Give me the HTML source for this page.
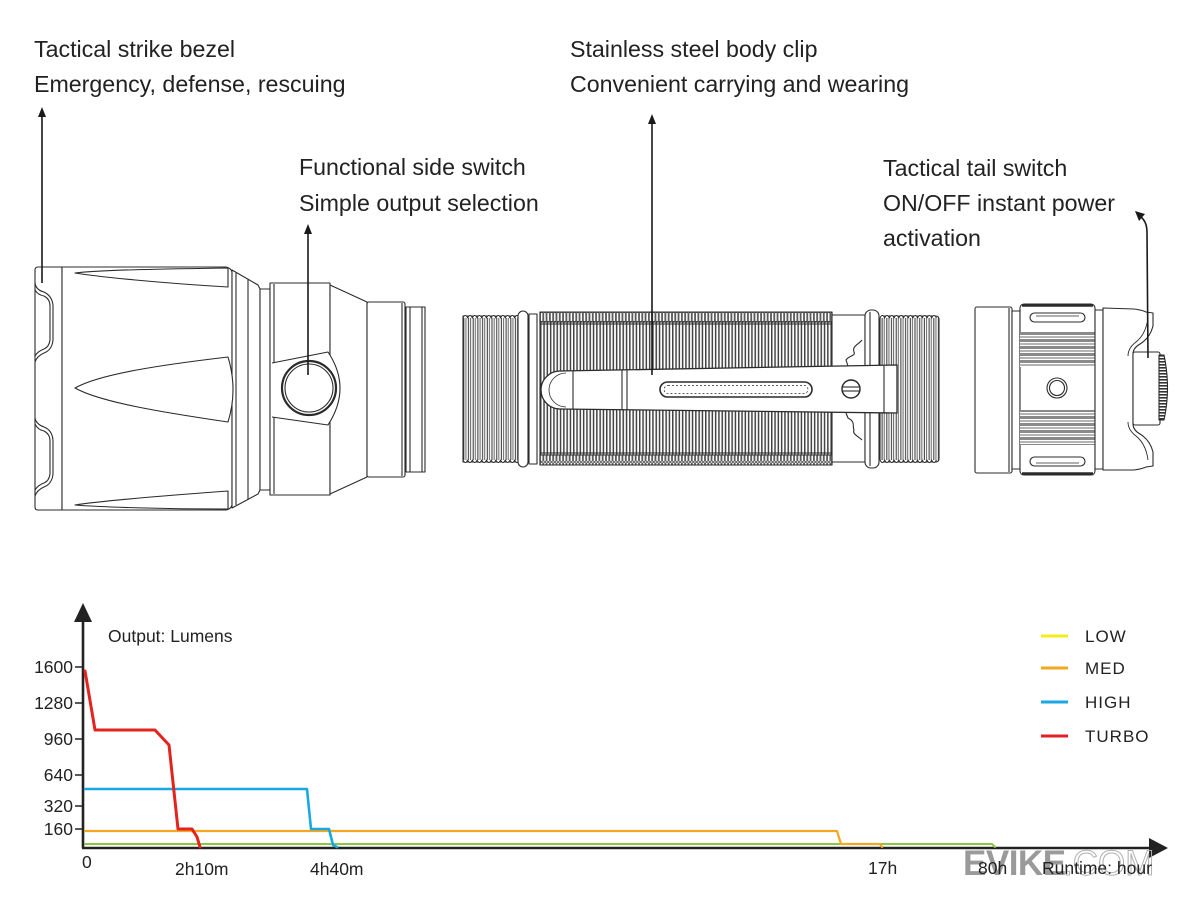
<!DOCTYPE html>
<html><head><meta charset="utf-8"><style>
html,body{margin:0;padding:0;background:#fff;}
svg{display:block;}
text{font-family:"Liberation Sans",Arial,sans-serif;}
</style></head><body>
<svg width="1200" height="900" viewBox="0 0 1200 900" xmlns="http://www.w3.org/2000/svg">
<defs>
<pattern id="vg" x="540" y="0" width="3.3" height="10" patternUnits="userSpaceOnUse"><rect width="3.3" height="10" fill="#fff"/><rect x="0" width="1.5" height="10" fill="#444"/></pattern>
<pattern id="kb" x="540" y="312" width="3.3" height="10" patternUnits="userSpaceOnUse"><rect width="3.3" height="10" fill="#fff"/><rect x="0.4" y="0.5" width="2.4" height="9" rx="1" fill="#fff" stroke="#444" stroke-width="0.8"/></pattern>
<pattern id="th" x="463" y="0" width="4.7" height="10" patternUnits="userSpaceOnUse"><rect width="4.7" height="10" fill="#fff"/><rect x="0.3" width="1" height="10" fill="#333"/><rect x="2.5" width="0.9" height="10" fill="#555"/></pattern>
<pattern id="tg" x="0" y="332" width="10" height="7" patternUnits="userSpaceOnUse"><rect width="10" height="7" fill="#fff"/><rect y="0" width="10" height="3" fill="#8a8a8a"/><rect y="4.6" width="10" height="0.8" fill="#444"/></pattern>
<pattern id="dial" x="0" y="355" width="10" height="3" patternUnits="userSpaceOnUse"><rect width="10" height="3" fill="#fff"/><rect width="10" height="1.6" fill="#333"/></pattern>
</defs>

<!-- labels -->
<g fill="#222" font-size="23.2">
<text x="34" y="57">Tactical strike bezel</text>
<text x="34" y="92">Emergency, defense, rescuing</text>
<text x="299" y="175">Functional side switch</text>
<text x="299" y="211">Simple output selection</text>
<text x="570" y="57">Stainless steel body clip</text>
<text x="570" y="92">Convenient carrying and wearing</text>
<text x="883" y="176">Tactical tail switch</text>
<text x="883" y="211">ON/OFF instant power</text>
<text x="883" y="246">activation</text>
</g>

<!-- ===== HEAD ===== -->
<g fill="#fff" stroke="#2b2b2b" stroke-width="1.1" stroke-linejoin="round">
<!-- bezel -->
<path d="M38,267 L62,267 L62,510 L38,510 Q35,510 35,507 L35,270 Q35,267 38,267 Z"/>
<path d="M35,283 Q36,290 44,292 Q52,296 53,305 L53,340 Q52,350 44,353 Q37,356 35,362" fill="none"/>
<path d="M35,290 Q38,295 44,296 Q50,299 50,306 L50,340 Q49,347 44,349 Q38,351 35,356" fill="none"/>
<path d="M35,418 Q36,424 44,427 Q52,430 53,440 L53,474 Q52,484 44,487 Q37,490 35,496" fill="none"/>
<path d="M35,424 Q38,430 44,431 Q50,434 50,441 L50,474 Q49,481 44,483 Q38,485 35,490" fill="none"/>
<!-- main body -->
<path d="M62,267 L226,267 Q231,268 232,272 L232,505 Q231,509 226,510 L62,510 Z"/>
<path d="M232,270 L258,285 L260,289 L260,490 L258,494 L232,508 Z"/>
<line x1="236" y1="273" x2="236" y2="505"/>
<line x1="248" y1="279" x2="248" y2="500"/>
<!-- flutes -->
<path d="M228,268 C160,269 100,270 75,273 C100,277 160,283 228,287 Z"/>
<path d="M228,357 C160,365 100,374 75,388 C100,402 160,412 228,422 Q238,390 228,357 Z"/>
<path d="M228,491 C160,496 100,501 75,505 C100,507 160,509 228,509 Z"/>
<!-- neck -->
<rect x="260" y="289" width="10" height="201"/>
<!-- switch section -->
<rect x="270" y="283" width="60" height="212"/>
<line x1="274" y1="284" x2="274" y2="494"/>
<!-- taper -->
<path d="M330,285 L367,302 L367,477 L330,494 Z"/>
<rect x="367" y="302" width="38" height="175" rx="2"/>
<line x1="402" y1="303" x2="402" y2="476"/>
<rect x="406" y="307" width="19" height="165"/>
<line x1="410" y1="307" x2="410" y2="472"/>
<line x1="422" y1="307" x2="422" y2="472"/>
<!-- switch boss -->
<path d="M272,363 L328,352 Q352,388 328,425 L272,417"/>
<circle cx="309" cy="388" r="27" stroke-width="2.2"/>
<circle cx="309" cy="388" r="24"/>
</g>

<!-- ===== BODY ===== -->
<g stroke="#2b2b2b" stroke-width="1.1" stroke-linejoin="round">
<!-- left threads -->
<rect x="463" y="316" width="55" height="146" fill="url(#th)"/>
<path d="M463,318 q2.3,-5 4.7,0 q2.3,-5 4.7,0 q2.3,-5 4.7,0 q2.3,-5 4.7,0 q2.3,-5 4.7,0 q2.3,-5 4.7,0 q2.3,-5 4.7,0 q2.3,-5 4.7,0 q2.3,-5 4.7,0 q2.3,-5 4.7,0 q2.3,-5 4.7,0 q2.3,-5 4.7,0" fill="#fff" stroke-width="0.9"/>
<path d="M463,460 q2.3,5 4.7,0 q2.3,5 4.7,0 q2.3,5 4.7,0 q2.3,5 4.7,0 q2.3,5 4.7,0 q2.3,5 4.7,0 q2.3,5 4.7,0 q2.3,5 4.7,0 q2.3,5 4.7,0 q2.3,5 4.7,0 q2.3,5 4.7,0 q2.3,5 4.7,0" fill="#fff" stroke-width="0.9"/>
<rect x="518" y="311" width="10" height="156" rx="5" fill="#fff"/>
<rect x="529" y="314" width="8" height="150" fill="#fff"/>
<!-- knurled main -->
<rect x="540" y="312" width="292" height="153" fill="url(#vg)"/>
<rect x="540" y="312" width="292" height="10" fill="url(#kb)"/>
<rect x="540" y="455" width="292" height="10" fill="url(#kb)"/>
<line x1="540" y1="324" x2="832" y2="324"/>
<line x1="540" y1="453" x2="832" y2="453"/>
<!-- right plain -->
<rect x="832" y="315" width="33" height="147" fill="#fff"/>
<path d="M862,340 C858,345 852,346 854,352 C856,356 848,356 846,360 L848,366" fill="none"/>
<path d="M846,413 L848,418 C856,422 852,426 854,430 C852,434 858,436 862,440" fill="none"/>
<rect x="865" y="310" width="14" height="158" rx="6" fill="#fff"/>
<line x1="870" y1="312" x2="870" y2="466"/>
<rect x="880" y="316" width="59" height="146" rx="3" fill="url(#th)"/>
<path d="M880,318 q2.3,-5 4.7,0 q2.3,-5 4.7,0 q2.3,-5 4.7,0 q2.3,-5 4.7,0 q2.3,-5 4.7,0 q2.3,-5 4.7,0 q2.3,-5 4.7,0 q2.3,-5 4.7,0 q2.3,-5 4.7,0 q2.3,-5 4.7,0 q2.3,-5 4.7,0 q2.3,-5 4.7,0" fill="#fff" stroke-width="0.9"/>
<path d="M880,460 q2.3,5 4.7,0 q2.3,5 4.7,0 q2.3,5 4.7,0 q2.3,5 4.7,0 q2.3,5 4.7,0 q2.3,5 4.7,0 q2.3,5 4.7,0 q2.3,5 4.7,0 q2.3,5 4.7,0 q2.3,5 4.7,0 q2.3,5 4.7,0 q2.3,5 4.7,0" fill="#fff" stroke-width="0.9"/>
<!-- clip -->
<rect x="541" y="384" width="11" height="12" fill="#fff"/>
<path d="M897,365 L560,371 A19,19 0 0 0 560,409 L897,413 Z" fill="#fff" stroke-width="1.3"/>
<path d="M566,373 A17,17 0 0 0 566,407" fill="none" stroke-width="0.8"/>
<line x1="573" y1="371" x2="573" y2="409"/>
<line x1="622" y1="370" x2="622" y2="410"/>
<line x1="627" y1="370" x2="627" y2="410"/>
<line x1="884" y1="366" x2="884" y2="413"/>
<rect x="660" y="382" width="152" height="15" rx="7.5" fill="#fff" stroke-width="1.6"/>
<rect x="664" y="385.5" width="144" height="8" rx="4" fill="none" stroke-width="0.7" stroke-dasharray="2 2"/>
<circle cx="851" cy="389" r="9" fill="#fff" stroke-width="1.5"/>
<line x1="843" y1="387" x2="859" y2="387"/>
<line x1="843" y1="391" x2="859" y2="391"/>
</g>

<!-- ===== TAIL ===== -->
<g stroke="#2b2b2b" stroke-width="1.1" stroke-linejoin="round" fill="#fff">
<rect x="975" y="307" width="37" height="166" rx="2"/>
<line x1="1009" y1="308" x2="1009" y2="472"/>
<rect x="1012" y="311" width="8" height="158"/>
<rect x="1020" y="304" width="75" height="171" rx="4"/>
<line x1="1022" y1="305.5" x2="1093" y2="305.5" stroke-width="2.5"/>
<line x1="1022" y1="473.5" x2="1093" y2="473.5" stroke-width="2.5"/>
<rect x="1030" y="313" width="55" height="9" rx="4.5"/>
<line x1="1036" y1="316" x2="1079" y2="316" stroke-width="0.8"/>
<rect x="1030" y="457" width="55" height="9" rx="4.5"/>
<line x1="1036" y1="463" x2="1079" y2="463" stroke-width="0.8"/>
<rect x="1020" y="332" width="75" height="35" fill="url(#tg)" stroke="none"/>
<rect x="1020" y="410" width="75" height="35" fill="url(#tg)" stroke="none"/>
<circle cx="1057" cy="388" r="10"/>
<circle cx="1057" cy="388" r="7.5"/>
<rect x="1095" y="310" width="8" height="159"/>
<path d="M1103,308 L1134,309 Q1142,310 1146,312 L1153,313 L1153,326 Q1150,338 1140,344 Q1133,348 1133,354 L1133,424 Q1133,430 1140,434 Q1150,440 1153,452 L1153,466 L1146,467 Q1142,469 1134,470 L1103,470 Z"/>
<path d="M1148,318 Q1146,334 1136,342 Q1128,348 1128,356" fill="none" stroke-width="0.9"/>
<path d="M1148,460 Q1146,444 1136,436 Q1128,430 1128,422" fill="none" stroke-width="0.9"/>
<rect x="1133" y="352" width="27" height="73" rx="2"/>
<path d="M1159,355 L1164,355 Q1171,388 1164,420 L1159,420 Z" fill="url(#dial)"/>
</g>

<!-- arrows -->
<g stroke="#1a1a1a" stroke-width="1.6" fill="none">
<line x1="42" y1="115" x2="42" y2="283"/>
<line x1="308" y1="232" x2="308" y2="375"/>
<line x1="652" y1="122" x2="652" y2="375"/>
<path d="M1148,358 L1147,232 Q1147,222 1141,217"/>
</g>
<g fill="#1a1a1a">
<polygon points="42,107 38,117 46,117"/>
<polygon points="308,224 304,234 312,234"/>
<polygon points="652,114 648,124 656,124"/>
<polygon points="1135,211 1145,214 1139,221"/>
</g>

<!-- ===== CHART ===== -->
<g stroke="#222" fill="none">
<line x1="83" y1="618" x2="83" y2="848" stroke-width="2.6"/>
<line x1="82" y1="848" x2="1152" y2="848" stroke-width="2.6"/>
<g stroke-width="1.5">
<line x1="75" y1="667" x2="83" y2="667"/>
<line x1="75" y1="703" x2="83" y2="703"/>
<line x1="75" y1="739" x2="83" y2="739"/>
<line x1="75" y1="775" x2="83" y2="775"/>
<line x1="75" y1="806" x2="83" y2="806"/>
<line x1="75" y1="829" x2="83" y2="829"/>
</g>
</g>
<polygon points="83,603 74,622 92,622" fill="#222"/>
<polygon points="1168,848 1149,838 1149,858" fill="#222"/>

<!-- watermark -->
<text x="963" y="875" font-size="35" font-weight="bold" fill="#9a9a9a" letter-spacing="-0.5">EVIKE</text>
<text x="1063" y="875" font-size="35" fill="none" stroke="#b0b0b0" stroke-width="1">.COM</text>

<!-- data lines -->
<g fill="none" stroke-linejoin="round" stroke-linecap="round">
<path d="M85,844 L992,844 L995,847" stroke="#8dc63f" stroke-width="2"/>
<path d="M85,831 L837,831 L841,844 L880,844 L882,847" stroke="#f5a623" stroke-width="2.2"/>
<path d="M85,789 L307,789 L311,829 L329,829 L333,845 L337,847" stroke="#1ba7e1" stroke-width="2.6"/>
<path d="M85,671 L95,730 L155,730 L169,745 L178,829 L192,829 L197,837 L200,847" stroke="#e3231d" stroke-width="3"/>
</g>

<!-- chart text -->
<g fill="#222" font-size="17.5">
<text x="108" y="642">Output: Lumens</text>
<g text-anchor="end">
<text x="73" y="673">1600</text>
<text x="73" y="709">1280</text>
<text x="73" y="745">960</text>
<text x="73" y="781">640</text>
<text x="73" y="812">320</text>
<text x="73" y="835">160</text>
</g>
<text x="82" y="868">0</text>
<text x="175" y="875">2h10m</text>
<text x="310" y="875">4h40m</text>
<text x="868" y="874">17h</text>
<text x="978" y="874">80h</text>
<text x="1042" y="874">Runtime: hour</text>
</g>

<!-- legend -->
<g stroke-width="3">
<line x1="1041" y1="636" x2="1068" y2="636" stroke="#f3ec19"/>
<line x1="1041" y1="668" x2="1068" y2="668" stroke="#f2a91f"/>
<line x1="1041" y1="702" x2="1068" y2="702" stroke="#1ba7e1"/>
<line x1="1041" y1="736" x2="1068" y2="736" stroke="#e31e24"/>
</g>
<g fill="#222" font-size="17" letter-spacing="1">
<text x="1085" y="642">LOW</text>
<text x="1085" y="674">MED</text>
<text x="1085" y="708">HIGH</text>
<text x="1085" y="742">TURBO</text>
</g>
</svg>
</body></html>
